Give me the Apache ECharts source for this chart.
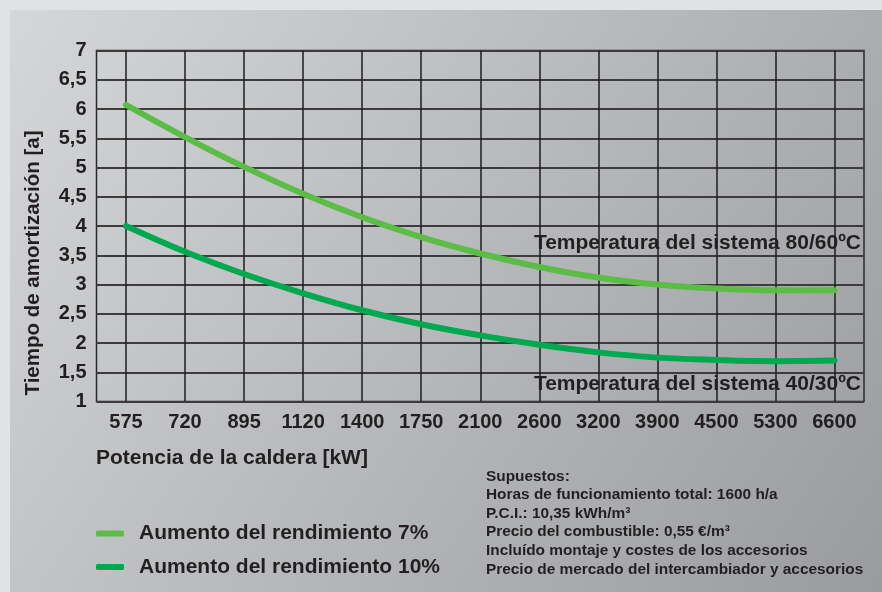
<!DOCTYPE html>
<html>
<head>
<meta charset="utf-8">
<script src="https://cdn.jsdelivr.net/npm/echarts@6/dist/echarts.min.js"></script>
<style>
  html, body { margin: 0; padding: 0; }
  #main { width: 882px; height: 592px; }
</style>
</head>
<body>
<div id="main"></div>
<script>
// potencia de la caldera [kW]
const categories = ['575', '720', '895', '1120', '1400', '1750', '2100', '2600', '3200', '3900', '4500', '5300', '6600']
// tiempo de amortización [a]
const aumento7 = [6.07, 5.52, 5.01, 4.55, 4.15, 3.81, 3.53, 3.3, 3.12, 3.0, 2.93, 2.9, 2.9]
const aumento10 = [4.0, 3.56, 3.18, 2.85, 2.56, 2.32, 2.13, 1.97, 1.84, 1.75, 1.71, 1.69, 1.7]
const seriesNames = ['Aumento del rendimiento 7%', 'Aumento del rendimiento 10%']
const supuestos = [
  'Supuestos:',
  'Horas de funcionamiento total: 1600 h/a',
  'P.C.I.: 10,35 kWh/m³',
  'Precio del combustible: 0,55 €/m³',
  'Incluído montaje y costes de los accesorios',
  'Precio de mercado del intercambiador y accesorios'
]

const FONT = '"Liberation Sans", Arial, sans-serif'
const TXT = '#231f20'
const myChart = echarts.init(document.getElementById('main'))

myChart.setOption({
  animation: false,
  backgroundColor: {
    type: 'linear', x: 0, y: 0, x2: 1, y2: 1,
    colorStops: [
      { offset: 0, color: '#d6d7d9' },
      { offset: 1, color: '#999b9e' }
    ]
  },
  textStyle: { fontFamily: FONT },
  grid: {
    left: 96.5,
    right: 18,
    top: 50.5,
    bottom: 190.5,
    show: true,
    borderColor: '#2a2a2a',
    borderWidth: 1.5
  },
  legend: {
    orient: 'vertical',
    left: 96,
    top: 522,
    padding: 0,
    icon: 'roundRect',
    itemWidth: 28,
    itemHeight: 6,
    itemGap: 10.5,
    textStyle: {
      fontFamily: FONT,
      fontWeight: 'bold',
      fontSize: 21,
      color: TXT,
      lineHeight: 23,
      padding: [0, 0, 0, 10]
    }
  },
  xAxis: {
    type: 'category',
    data: categories,
    boundaryGap: true,
    axisLine: { show: false },
    axisTick: { show: false },
    axisLabel: {
      fontFamily: FONT,
      fontWeight: 'bold',
      fontSize: 20,
      color: TXT,
      margin: 11
    },
    splitLine: {
      show: true,
      alignWithLabel: true,
      lineStyle: { color: '#1e1e1e', width: 1.5 }
    }
  },
  yAxis: {
    type: 'value',
    min: 1,
    max: 7,
    interval: 0.5,
    axisLine: { show: false },
    axisTick: { show: false },
    axisLabel: {
      fontFamily: FONT,
      fontWeight: 'bold',
      fontSize: 20,
      color: TXT,
      margin: 10,
      formatter: v => String(v).replace('.', ',')
    },
    splitLine: {
      lineStyle: { color: '#3c3c3c', width: 2 }
    }
  },
  graphic: [
    { type: 'rect', shape: { x: 0, y: 0, width: 882, height: 10 }, style: { fill: '#e1e2e4' } },
    { type: 'rect', shape: { x: 0, y: 0, width: 10, height: 592 }, style: { fill: '#e1e2e4' } },
    {
      type: 'text', x: 33, y: 263, rotation: Math.PI / 2,
      style: {
        text: 'Tiempo de amortización [a]', fill: TXT,
        font: 'bold 20.5px ' + FONT, align: 'center', verticalAlign: 'middle'
      }
    },
    {
      type: 'text', x: 96, y: 458,
      style: {
        text: 'Potencia de la caldera [kW]', fill: TXT,
        font: 'bold 21px ' + FONT, align: 'left', verticalAlign: 'middle'
      }
    },
    {
      type: 'text', x: 861, y: 243, z: 10,
      style: {
        text: 'Temperatura del sistema 80/60ºC', fill: TXT,
        font: 'bold 21px ' + FONT, align: 'right', verticalAlign: 'middle'
      }
    },
    {
      type: 'text', x: 861, y: 384, z: 10,
      style: {
        text: 'Temperatura del sistema 40/30ºC', fill: TXT,
        font: 'bold 21px ' + FONT, align: 'right', verticalAlign: 'middle'
      }
    },
    {
      type: 'text', x: 486, y: 467,
      style: {
        text: supuestos.join('\n'), fill: TXT,
        font: 'bold 15.4px ' + FONT, lineHeight: 18.6,
        align: 'left', verticalAlign: 'top'
      }
    }
  ],
  series: [
    {
      name: seriesNames[0],
      type: 'line',
      data: aumento7,
      smooth: 0.4,
      showSymbol: false,
      color: '#5cbd46',
      lineStyle: { color: '#5cbd46', width: 6, cap: 'round' }
    },
    {
      name: seriesNames[1],
      type: 'line',
      data: aumento10,
      smooth: 0.4,
      showSymbol: false,
      color: '#00a84f',
      lineStyle: { color: '#00a84f', width: 6, cap: 'round' }
    }
  ]
})
</script>
</body>
</html>
